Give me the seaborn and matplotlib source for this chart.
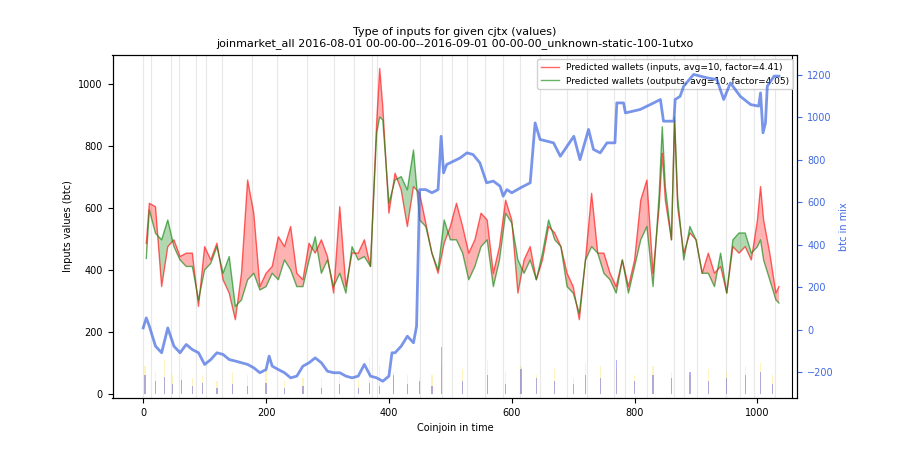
import numpy as np
import pandas as pd
import matplotlib
matplotlib.use('Agg')
import matplotlib.pyplot as plt
import seaborn as sns

# ── Data ─────────────────────────────────────────────────────────────────────
x_pts = [5, 10, 20, 30, 40, 50, 60, 70, 80, 90, 100, 110, 120, 130, 140, 150, 160, 170, 180, 190,
         200, 210, 220, 230, 240, 250, 260, 270, 280, 290, 300, 310, 320, 330, 340, 350, 360, 370, 380, 385,
         390, 400, 410, 420, 430, 440, 450, 460, 470, 480, 490, 500, 510, 520, 530, 540, 550, 560, 570, 580,
         590, 600, 610, 620, 630, 640, 650, 660, 670, 680, 690, 700, 710, 720, 730, 740, 750, 760, 770, 780,
         790, 800, 810, 820, 830, 840, 845, 850, 860, 865, 870, 880, 890, 900, 910, 920, 930, 940, 950, 960,
         970, 980, 990, 1000, 1005, 1010, 1020, 1030, 1035]
inputs_avg = [486, 615, 604, 346, 475, 497, 443, 454, 454, 282, 475, 432, 486, 368, 325, 239, 389, 690, 583, 346,
              389, 411, 507, 475, 540, 389, 368, 486, 454, 497, 443, 325, 604, 346, 454, 454, 497, 411, 873, 1050,
              927, 583, 712, 658, 540, 669, 647, 551, 454, 389, 486, 540, 615, 540, 454, 497, 583, 561, 389, 475,
              625, 561, 325, 432, 475, 368, 432, 540, 519, 475, 389, 346, 239, 432, 647, 454, 454, 389, 346, 432,
              346, 432, 625, 690, 389, 604, 776, 625, 497, 884, 604, 454, 519, 497, 389, 454, 389, 411, 325, 475,
              454, 475, 432, 561, 669, 561, 454, 325, 346]
outputs_avg = [437, 593, 518, 497, 561, 475, 432, 411, 411, 303, 400, 421, 475, 389, 443, 282, 303, 368, 389, 335,
               346, 389, 368, 432, 400, 346, 346, 432, 507, 389, 432, 346, 389, 325, 475, 432, 443, 411, 841, 894,
               884, 615, 690, 701, 658, 787, 561, 540, 454, 400, 561, 497, 497, 454, 368, 411, 475, 497, 346, 432,
               583, 551, 432, 389, 432, 368, 454, 561, 497, 475, 346, 325, 260, 432, 475, 454, 389, 368, 325, 432,
               325, 411, 497, 540, 346, 647, 862, 668, 497, 894, 636, 432, 540, 497, 389, 389, 346, 454, 325, 497,
               519, 519, 454, 475, 497, 432, 368, 303, 293]

mix_x = [0, 5, 10, 20, 30, 40, 50, 60, 70, 80, 90, 100, 110, 120, 130, 140, 150, 160, 170, 180,
         190, 200, 205, 210, 220, 230, 240, 250, 260, 270, 280, 290, 300, 310, 320, 330, 340, 350, 360, 370,
         380, 390, 400, 405, 410, 420, 430, 440, 445, 450, 460, 470, 480, 485, 489, 494, 516, 527, 537, 548,
         559, 570, 581, 586, 592, 600, 614, 630, 638, 646, 668, 679, 701, 711, 725, 733, 744, 755, 768, 771,
         782, 785, 809, 831, 842, 847, 864, 866, 874, 880, 896, 918, 934, 945, 956, 972, 989, 1002, 1005, 1009,
         1013, 1016, 1027, 1035]
btc_in_mix = [9, 56, 17, -77, -108, 9, -77, -108, -69, -93, -108, -163, -140, -108, -116, -140, -147, -155, -163, -179,
              -202, -187, -124, -171, -187, -202, -226, -218, -171, -155, -132, -155, -195, -202, -202, -218, -226, -218, -163, -218,
              -226, -242, -218, -108, -108, -77, -30, -61, 17, 660, 660, 645, 660, 911, 739, 778, 809, 833, 825, 786,
              692, 700, 676, 629, 660, 645, 668, 692, 974, 896, 880, 817, 911, 801, 943, 849, 833, 880, 880, 1068,
              1068, 1021, 1037, 1068, 1084, 982, 982, 1084, 1099, 1147, 1202, 1186, 1178, 1084, 1162, 1099, 1060, 1053, 1115, 927,
              974, 1147, 1194, 1194]

# day separators
day_lines = [0, 13, 45, 58, 86, 102, 129, 177, 217, 266, 310, 343, 373, 381, 451, 486,
             502, 527, 557, 586, 614, 646, 690, 722, 766, 785, 820, 864, 880, 902, 948, 972, 994, 1029]

# spikes of individual cjtx values near the bottom
spike_x = [3, 20, 35, 48, 62, 80, 97, 120, 145, 170, 200, 230, 260, 290, 320, 350, 368, 385, 408, 430,
           450, 470, 486, 520, 560, 590, 615, 640, 670, 700, 720, 745, 770, 800, 830, 860, 890, 920, 950, 980, 1005, 1025]
spike_blue = [60, 40, 55, 30, 45, 25, 35, 20, 30, 25, 35, 20, 25, 20, 30, 20, 35, 25, 60, 30,
              40, 25, 150, 40, 60, 30, 80, 50, 40, 30, 60, 50, 110, 40, 60, 50, 70, 40, 50, 60, 70, 30]
spike_orange = [90, 70, 110, 60, 80, 50, 60, 40, 70, 60, 80, 40, 50, 50, 60, 45, 120, 90, 70, 60,
                50, 60, 90, 80, 110, 70, 90, 60, 80, 50, 100, 90, 80, 60, 90, 70, 60, 80, 70, 90, 100, 60]

df = pd.DataFrame({'x': x_pts, 'inputs': inputs_avg, 'outputs': outputs_avg})
mix = pd.DataFrame({'x': mix_x, 'btc': btc_in_mix})

# ── Plot ─────────────────────────────────────────────────────────────────────
fig = plt.figure(figsize=(9, 4.5), dpi=100)
ax = fig.add_axes([0.125, 0.116, 0.761, 0.762])

for d in day_lines:
    ax.axvline(d, color='lightgray', lw=0.8, alpha=0.5, zorder=0)
ax.axvline(1057, color='black', lw=0.8)

ax.bar(spike_x, spike_orange, width=2, color='gold', alpha=0.25, zorder=1)
ax.bar(spike_x, spike_blue, width=2, color='blue', alpha=0.3, zorder=1)

sns.lineplot(data=df, x='x', y='inputs', color='red', alpha=0.6, lw=1,
             label='Predicted wallets (inputs, avg=10, factor=4.41)', ax=ax)
sns.lineplot(data=df, x='x', y='outputs', color='green', alpha=0.6, lw=1,
             label='Predicted wallets (outputs, avg=10, factor=4.05)', ax=ax)
ax.fill_between(df['x'], df['inputs'], df['outputs'], where=df['inputs'] >= df['outputs'],
                color='red', alpha=0.3, interpolate=True, lw=0)
ax.fill_between(df['x'], df['inputs'], df['outputs'], where=df['inputs'] < df['outputs'],
                color='green', alpha=0.3, interpolate=True, lw=0)

ax.set_xlim(-50, 1065)
ax.set_ylim(-13, 1094)
ax.set_xlabel('Coinjoin in time', fontsize=7)
ax.set_ylabel('Inputs values (btc)', fontsize=7)
ax.tick_params(labelsize=7)
ax.set_title('Type of inputs for given cjtx (values)\n'
             'joinmarket_all 2016-08-01 00-00-00--2016-09-01 00-00-00_unknown-static-100-1utxo',
             fontsize=8)
ax.legend(loc='upper right', fontsize=6.5, framealpha=0.9)

ax2 = ax.twinx()
sns.lineplot(data=mix, x='x', y='btc', color='royalblue', alpha=0.7, lw=2, ax=ax2)
ax2.set_ylim(-320, 1294)
ax2.set_ylabel('btc in mix', color='royalblue', fontsize=7)
ax2.tick_params(axis='y', colors='royalblue', labelsize=7)
ax2.set_xlabel('')

fig.savefig('out.png', dpi=100)
